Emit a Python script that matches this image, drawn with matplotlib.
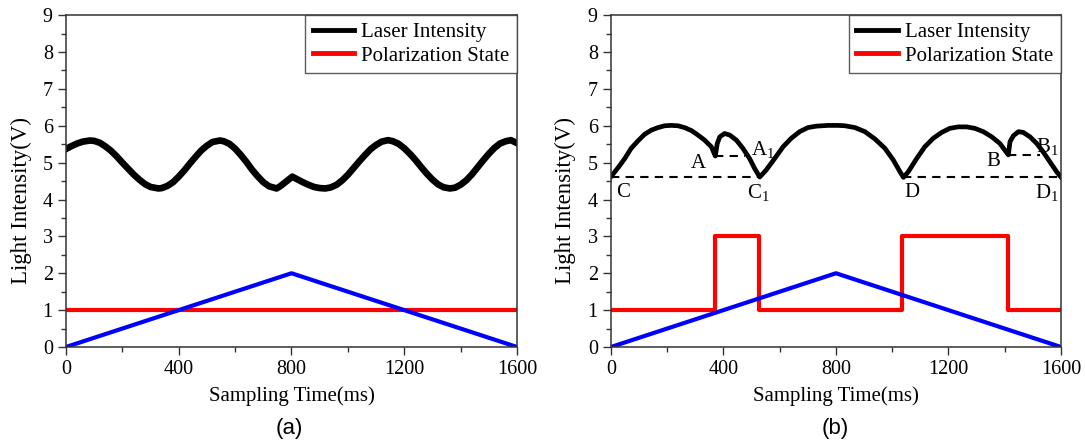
import numpy as np
import matplotlib
matplotlib.use("Agg")
import matplotlib.pyplot as plt
from matplotlib.ticker import MultipleLocator

plt.rcParams['font.family'] = ['Liberation Serif', 'DejaVu Serif']
plt.rcParams['mathtext.fontset'] = 'custom'
plt.rcParams['mathtext.rm'] = 'Liberation Serif'

# panel (a) laser intensity, every 20 ms (+ kink / extremes)
t_a = [0, 20, 40, 60, 85, 100, 120, 140, 160, 180, 200, 220, 240, 260, 280, 300, 328,
       340, 360, 380, 400, 420, 440, 460, 480, 500, 520, 546, 560, 580, 600, 620, 640,
       660, 680, 700, 720, 747, 760, 780, 803, 820, 840, 860, 880, 900, 920, 940, 960,
       980, 1000, 1020, 1040, 1060, 1080, 1100, 1120, 1143, 1160, 1180, 1200, 1220,
       1240, 1260, 1280, 1300, 1320, 1340, 1362, 1380, 1400, 1420, 1440, 1460, 1480,
       1500, 1520, 1540, 1560, 1578, 1600]
v_a = [5.37, 5.45, 5.52, 5.57, 5.60, 5.59, 5.54, 5.44, 5.32, 5.17, 5.00, 4.84, 4.68,
       4.54, 4.42, 4.34, 4.30, 4.31, 4.37, 4.47, 4.62, 4.79, 4.98, 5.16, 5.33, 5.46,
       5.56, 5.60, 5.58, 5.51, 5.38, 5.21, 5.02, 4.81, 4.63, 4.47, 4.36, 4.30, 4.36,
       4.48, 4.62, 4.55, 4.47, 4.40, 4.34, 4.31, 4.30, 4.33, 4.40, 4.52, 4.67, 4.85,
       5.03, 5.20, 5.36, 5.48, 5.57, 5.61, 5.58, 5.51, 5.39, 5.24, 5.07, 4.88, 4.70,
       4.54, 4.41, 4.33, 4.30, 4.32, 4.40, 4.52, 4.68, 4.87, 5.06, 5.24, 5.40, 5.52,
       5.58, 5.61, 5.53]

# panel (b) laser intensity
t_b = [0, 25, 49, 72, 96, 120, 143, 167, 191, 214, 238, 262, 286, 309, 333, 357, 371,
       378, 387, 404, 422, 446, 469, 493, 511, 529, 552, 582, 612, 641, 671, 700, 730,
       772, 807, 832, 868, 903, 939, 974, 1004, 1028, 1040, 1057, 1087, 1116, 1146,
       1176, 1205, 1235, 1265, 1294, 1324, 1354, 1383, 1413, 1419, 1431, 1449, 1466,
       1490, 1514, 1537, 1561, 1585, 1600]
v_b = [4.62, 4.86, 5.11, 5.39, 5.59, 5.77, 5.88, 5.95, 6.00, 6.01, 6.00, 5.95, 5.87,
       5.75, 5.61, 5.43, 5.18, 5.52, 5.70, 5.79, 5.75, 5.61, 5.39, 5.11, 4.84, 4.61,
       4.80, 5.11, 5.43, 5.66, 5.84, 5.95, 5.99, 6.01, 6.01, 6.00, 5.95, 5.84, 5.64,
       5.39, 5.07, 4.75, 4.60, 4.75, 5.11, 5.43, 5.66, 5.82, 5.93, 5.97, 5.97, 5.93,
       5.84, 5.70, 5.52, 5.21, 5.57, 5.73, 5.84, 5.82, 5.70, 5.52, 5.29, 5.02, 4.75,
       4.61]

# polarization state
pol_a_t = [0, 1600]
pol_a_v = [1, 1]
pol_b_t = [0, 370, 370, 525, 525, 1035, 1035, 1412, 1412, 1600]
pol_b_v = [1, 1, 3, 3, 1, 1, 3, 3, 1, 1]

# triangle sweep
tri_t = [0, 800, 1600]
tri_v = [0, 2, 0]

# dashed reference levels in (b)
ref_segments = [([0, 529], [4.6, 4.6]), ([1040, 1600], [4.6, 4.6]),
                ([371, 477], [5.17, 5.17]), ([1413, 1524], [5.2, 5.2])]
point_labels = [("A", 309, 4.99), ("A$_\\mathrm{1}$", 540, 5.34),
                ("C", 43, 4.18), ("C$_\\mathrm{1}$", 523, 4.18),
                ("D", 1071, 4.2), ("D$_\\mathrm{1}$", 1551, 4.18),
                ("B", 1358, 5.02), ("B$_\\mathrm{1}$", 1551, 5.42)]

fig = plt.figure(figsize=(10.85, 4.46), dpi=100)
ax1 = fig.add_axes([0.0608, 0.222, 0.4157, 0.744])
ax2 = fig.add_axes([0.5631, 0.222, 0.4147, 0.744])


def style(ax, ylab_x):
    ax.set_xlim(0, 1600)
    ax.set_ylim(0, 9)
    ax.xaxis.set_major_locator(MultipleLocator(400))
    ax.xaxis.set_minor_locator(MultipleLocator(200))
    ax.yaxis.set_major_locator(MultipleLocator(1))
    ax.yaxis.set_minor_locator(MultipleLocator(0.5))
    ax.tick_params(which='both', direction='out', labelsize=14.5, width=1.0, color='#333333')
    ax.tick_params(which='major', length=6)
    ax.tick_params(which='minor', length=3.5)
    for s in ax.spines.values():
        s.set_linewidth(1.1)
        s.set_color('#333333')
    ax.set_xlabel("Sampling Time(ms)", fontsize=15, labelpad=5)
    ax.set_ylabel("Light Intensity(V)", fontsize=16.5, va='center')
    ax.yaxis.set_label_coords(ylab_x, 0.44)


ax1.plot(t_a, v_a, color='black', lw=4.8, solid_joinstyle='round', label='Laser Intensity')
ax1.plot(pol_a_t, pol_a_v, color='red', lw=3, label='Polarization State')
ax1.plot(tri_t, tri_v, color='blue', lw=3)
style(ax1, -0.098)

ax2.plot(t_b, v_b, color='black', lw=3.4, solid_joinstyle='round', label='Laser Intensity')
ax2.plot(pol_b_t, pol_b_v, color='red', lw=3, label='Polarization State')
ax2.plot(tri_t, tri_v, color='blue', lw=3)
for xs, ys in ref_segments:
    ax2.plot(xs, ys, color='black', lw=1.5, ls=(0, (4, 3)))
for txt, x, y in point_labels:
    ax2.text(x, y, txt, fontsize=15, ha='center', va='center')
style(ax2, -0.102)

for ax in (ax1, ax2):
    leg = ax.legend(loc='upper right', fontsize=15, frameon=True, fancybox=False,
                    borderaxespad=0, handlelength=2.0, handletextpad=0.35,
                    borderpad=0.35, labelspacing=0.2)
    leg.get_frame().set_edgecolor('#333333')
    leg.get_frame().set_linewidth(1.0)
    for ln in leg.get_lines():
        ln.set_linewidth(3.5)

fig.text(0.267, 0.04, "(a)", fontsize=16, family='Liberation Sans', ha='center', va='center')
fig.text(0.770, 0.04, "(b)", fontsize=16, family='Liberation Sans', ha='center', va='center')

fig.savefig("out.png", dpi=100)
